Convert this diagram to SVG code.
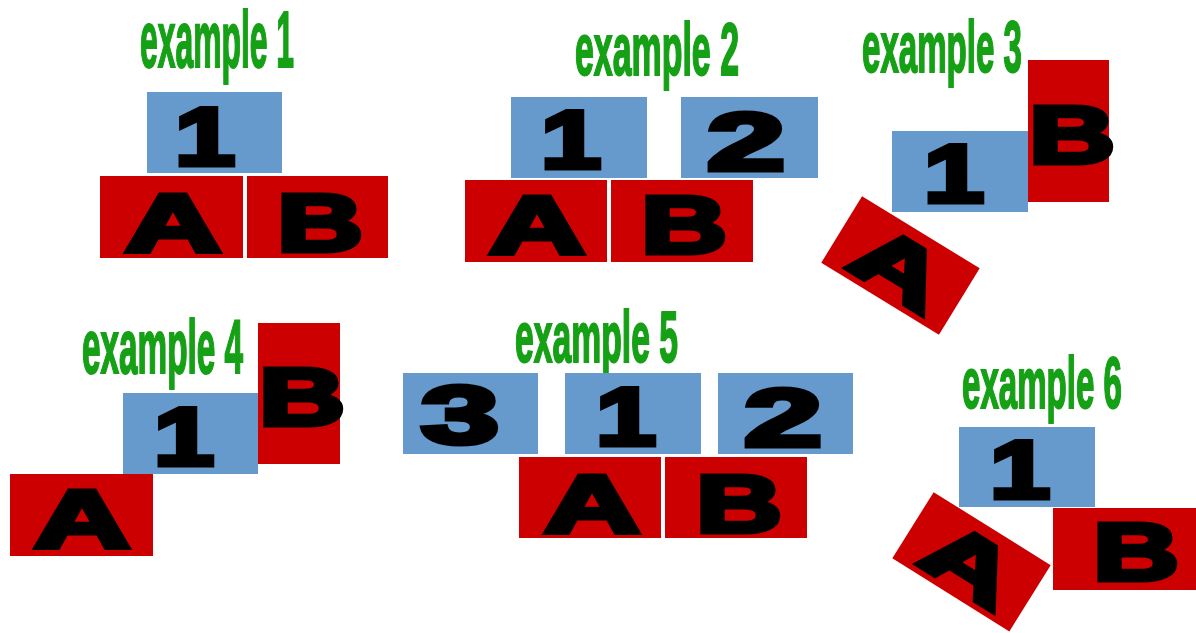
<svg xmlns="http://www.w3.org/2000/svg" width="1196" height="633" viewBox="0 0 1196 633">
<style>
.t{font-family:"Liberation Sans Narrow","Liberation Sans",Arial,sans-serif;font-weight:bold;fill:#15a015;stroke:#15a015;stroke-width:2}
.b{fill:#6699cc}
.r{fill:#cc0000}
.g{font-family:"Liberation Sans",Arial,sans-serif;font-weight:bold;font-size:82px;fill:#000;stroke:#000;stroke-width:5;text-anchor:middle}
</style>
<rect width="1196" height="633" fill="#fff"/>
<g id="ex1">
<text class="t" x="140" y="67" font-size="80" textLength="154" lengthAdjust="spacingAndGlyphs">example 1</text>
<g id="ex1-1"><rect class="b" x="147" y="92" width="135" height="81"/><text class="g" x="205" y="165" textLength="60" lengthAdjust="spacingAndGlyphs">1</text></g>
<g id="ex1-A"><rect class="r" x="100" y="176" width="143" height="82"/><text class="g" x="173" y="251" textLength="96" lengthAdjust="spacingAndGlyphs">A</text></g>
<g id="ex1-B"><rect class="r" x="247" y="176" width="141" height="82"/><text class="g" x="320" y="251" textLength="86" lengthAdjust="spacingAndGlyphs">B</text></g>
</g>
<g id="ex2">
<text class="t" x="575" y="75" font-size="75" textLength="164" lengthAdjust="spacingAndGlyphs">example 2</text>
<g id="ex2-1"><rect class="b" x="511" y="97" width="136" height="81"/><text class="g" x="571" y="168" textLength="60" lengthAdjust="spacingAndGlyphs">1</text></g>
<g id="ex2-2"><rect class="b" x="681" y="97" width="137" height="81"/><text class="g" x="746" y="170" textLength="78" lengthAdjust="spacingAndGlyphs">2</text></g>
<g id="ex2-A"><rect class="r" x="465" y="180" width="142" height="82"/><text class="g" x="537" y="253" textLength="96" lengthAdjust="spacingAndGlyphs">A</text></g>
<g id="ex2-B"><rect class="r" x="611" y="180" width="142" height="82"/><text class="g" x="684" y="253" textLength="86" lengthAdjust="spacingAndGlyphs">B</text></g>
</g>
<g id="ex3">
<text class="t" x="862" y="72" font-size="73" textLength="160" lengthAdjust="spacingAndGlyphs">example 3</text>
<g id="ex3-1"><rect class="b" x="892" y="131" width="136" height="81"/><text class="g" x="954" y="202" textLength="60" lengthAdjust="spacingAndGlyphs">1</text></g>
<g id="ex3-B"><rect class="r" x="1028" y="60" width="81" height="142"/><text class="g" x="1072" y="163" textLength="86" lengthAdjust="spacingAndGlyphs">B</text></g>
<g id="ex3-A" transform="translate(900.5,265.5) rotate(31.5)"><rect class="r" x="-69" y="-39" width="138" height="78"/><text class="g" x="0" y="31" textLength="94" lengthAdjust="spacingAndGlyphs">A</text></g>
</g>
<g id="ex4">
<text class="t" x="82" y="373" font-size="76" textLength="161" lengthAdjust="spacingAndGlyphs">example 4</text>
<g id="ex4-1"><rect class="b" x="123" y="393" width="135" height="81"/><text class="g" x="184" y="465" textLength="60" lengthAdjust="spacingAndGlyphs">1</text></g>
<g id="ex4-B"><rect class="r" x="258" y="323" width="82" height="141"/><text class="g" x="302" y="425" textLength="86" lengthAdjust="spacingAndGlyphs">B</text></g>
<g id="ex4-A"><rect class="r" x="10" y="474" width="143" height="82"/><text class="g" x="82" y="547" textLength="96" lengthAdjust="spacingAndGlyphs">A</text></g>
</g>
<g id="ex5">
<text class="t" x="515" y="362" font-size="72" textLength="163" lengthAdjust="spacingAndGlyphs">example 5</text>
<g id="ex5-3"><rect class="b" x="403" y="373" width="135" height="81"/><text class="g" x="460" y="443" textLength="78" lengthAdjust="spacingAndGlyphs">3</text></g>
<g id="ex5-1"><rect class="b" x="565" y="373" width="136" height="81"/><text class="g" x="626" y="445" textLength="60" lengthAdjust="spacingAndGlyphs">1</text></g>
<g id="ex5-2"><rect class="b" x="718" y="373" width="135" height="81"/><text class="g" x="783" y="446" textLength="78" lengthAdjust="spacingAndGlyphs">2</text></g>
<g id="ex5-A"><rect class="r" x="519" y="457" width="142" height="81"/><text class="g" x="592" y="532" textLength="96" lengthAdjust="spacingAndGlyphs">A</text></g>
<g id="ex5-B"><rect class="r" x="665" y="457" width="142" height="81"/><text class="g" x="739" y="532" textLength="86" lengthAdjust="spacingAndGlyphs">B</text></g>
</g>
<g id="ex6">
<text class="t" x="962" y="408" font-size="72" textLength="160" lengthAdjust="spacingAndGlyphs">example 6</text>
<g id="ex6-1"><rect class="b" x="959" y="427" width="136" height="80"/><text class="g" x="1020" y="498" textLength="60" lengthAdjust="spacingAndGlyphs">1</text></g>
<g id="ex6-B"><rect class="r" x="1053" y="508" width="143" height="82"/><text class="g" x="1136" y="580" textLength="86" lengthAdjust="spacingAndGlyphs">B</text></g>
<g id="ex6-A" transform="translate(971.5,561.8) rotate(32)"><rect class="r" x="-69" y="-39" width="138" height="78"/><text class="g" x="0" y="31" textLength="94" lengthAdjust="spacingAndGlyphs">A</text></g>
</g>
<g id="connectors"/>
</svg>
